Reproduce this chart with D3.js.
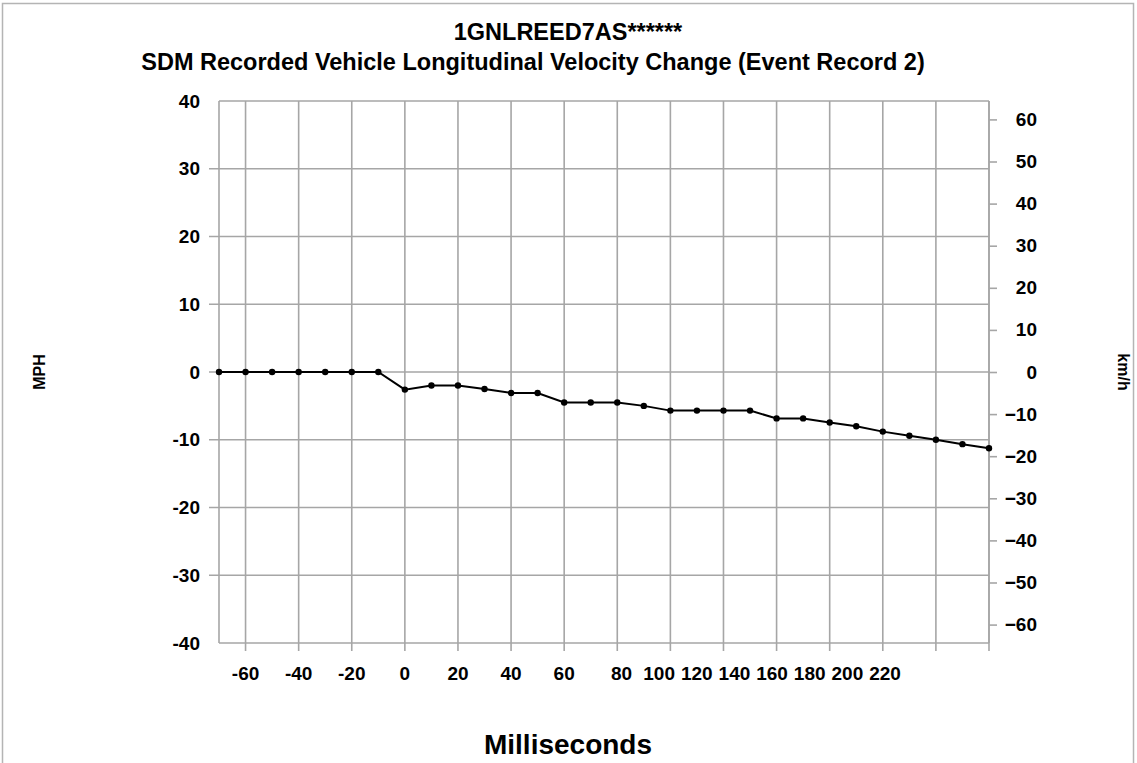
<!DOCTYPE html>
<html lang="en">
<head>
<meta charset="UTF-8">
<title>SDM Longitudinal Velocity Change</title>
<script src="https://d3js.org/d3.v7.min.js"></script>
<style>
  body { margin: 0; background: #fff; }
  svg text { font-family: "Liberation Sans", Arial, sans-serif; font-weight: bold; fill: #000; }
</style>
</head>
<body>
<svg id="chart" width="1137" height="763"></svg>
<script>
// recorded samples, ms vs MPH
var timeMs = [-70, -60, -50, -40, -30, -20, -10, 0, 10, 20, 30, 40, 50, 60, 70, 80, 90, 100,
              110, 120, 130, 140, 150, 160, 170, 180, 190, 200, 210, 220];
var velMph = [0, 0, 0, 0, 0, 0, 0, -2.6, -2.0, -2.0, -2.5, -3.1, -3.1, -4.5, -4.5, -4.5, -5.0, -5.7,
              -5.7, -5.7, -5.7, -6.85, -6.85, -7.45, -8.0, -8.8, -9.4, -10.0, -10.65, -11.25];

var xTicks = [-60, -40, -20, 0, 20, 40, 60, 80, 100, 120, 140, 160, 180, 200, 220];
var mphTicks = [-40, -30, -20, -10, 0, 10, 20, 30, 40];
var kmhTicks = [-60, -50, -40, -30, -20, -10, 0, 10, 20, 30, 40, 50, 60];

var KMH_PER_MPH = 1.609344;

var svg = d3.select('#chart');
var plotL = 219, plotR = 989, plotT = 101, plotB = 643;

var x = d3.scaleLinear().domain([-70, 220]).range([plotL, plotR]);
var y = d3.scaleLinear().domain([-40, 40]).range([plotB, plotT]);
var yKmh = d3.scaleLinear().domain([-40 * KMH_PER_MPH, 40 * KMH_PER_MPH]).range([plotB, plotT]);
// the source program crowds the 3-digit labels together
var xLabel = d3.scaleLinear().domain([80, 220]).range([621.5, 885]);

var grid = '#a6a6a6';

// outer frame
svg.append('rect').attr('x', 2.5).attr('y', 3.5).attr('width', 1131).attr('height', 780)
  .attr('fill', 'none').attr('stroke', '#b4b4b4').attr('stroke-width', 1.5);

// gridlines (left tick stubs only on inner values)
svg.append('g').selectAll('line').data(mphTicks).enter().append('line')
  .attr('x1', function (d) { return Math.abs(d) === 40 ? plotL : plotL - 10; }).attr('x2', plotR)
  .attr('y1', function (d) { return y(d); }).attr('y2', function (d) { return y(d); })
  .attr('stroke', grid).attr('stroke-width', 1.6);
svg.append('g').selectAll('line').data(xTicks).enter().append('line')
  .attr('x1', function (d) { return x(d); }).attr('x2', function (d) { return x(d); })
  .attr('y1', plotT).attr('y2', plotB + 8)
  .attr('stroke', grid).attr('stroke-width', 1.6);
// plot box left / right edges
svg.append('line').attr('x1', plotL).attr('x2', plotL).attr('y1', plotT).attr('y2', plotB)
  .attr('stroke', grid).attr('stroke-width', 1.6);
svg.append('line').attr('x1', plotR).attr('x2', plotR).attr('y1', plotT).attr('y2', plotB)
  .attr('stroke', grid).attr('stroke-width', 1.6);

// right km/h axis
var rAxis = d3.axisRight(yKmh).tickValues(kmhTicks).tickSize(8).tickPadding(12);
var rg = svg.append('g').attr('transform', 'translate(' + plotR + ',0)').call(rAxis);
rg.select('.domain').remove();
rg.selectAll('.tick line').attr('stroke', grid).attr('stroke-width', 1.6);
rg.selectAll('.tick text').attr('x', 48).attr('text-anchor', 'end')
  .style('font-size', '19px');

// left MPH labels
svg.append('g').selectAll('text').data(mphTicks).enter().append('text')
  .attr('x', 200).attr('y', function (d) { return y(d); }).attr('dy', '0.35em')
  .attr('text-anchor', 'end').style('font-size', '19px')
  .text(function (d) { return d; });

// bottom labels
svg.append('g').selectAll('text').data(xTicks).enter().append('text')
  .attr('x', function (d) { return d <= 60 ? x(d) : xLabel(d); })
  .attr('y', 680).attr('text-anchor', 'middle').style('font-size', '19px')
  .text(function (d) { return d; });

// series
var line = d3.line()
  .x(function (d, i) { return x(timeMs[i]); })
  .y(function (d) { return y(d); });
svg.append('path').datum(velMph).attr('d', line)
  .attr('fill', 'none').attr('stroke', '#000').attr('stroke-width', 2);
svg.append('g').selectAll('circle').data(velMph).enter().append('circle')
  .attr('cx', function (d, i) { return x(timeMs[i]); })
  .attr('cy', function (d) { return y(d); })
  .attr('r', 3.2).attr('fill', '#000');

// titles
svg.append('text').attr('x', 568).attr('y', 40).attr('text-anchor', 'middle')
  .style('font-size', '23.5px').text('1GNLREED7AS******');
svg.append('text').attr('x', 533).attr('y', 70).attr('text-anchor', 'middle')
  .style('font-size', '23.5px')
  .text('SDM Recorded Vehicle Longitudinal Velocity Change (Event Record 2)');

svg.append('text').attr('transform', 'translate(45,372) rotate(-90)')
  .attr('text-anchor', 'middle').style('font-size', '16px').text('MPH');
svg.append('text').attr('transform', 'translate(1118,372) rotate(90)')
  .attr('text-anchor', 'middle').style('font-size', '16px').text('km/h');
svg.append('text').attr('x', 568).attr('y', 754).attr('text-anchor', 'middle')
  .style('font-size', '28px').text('Milliseconds');
</script>
</body>
</html>
